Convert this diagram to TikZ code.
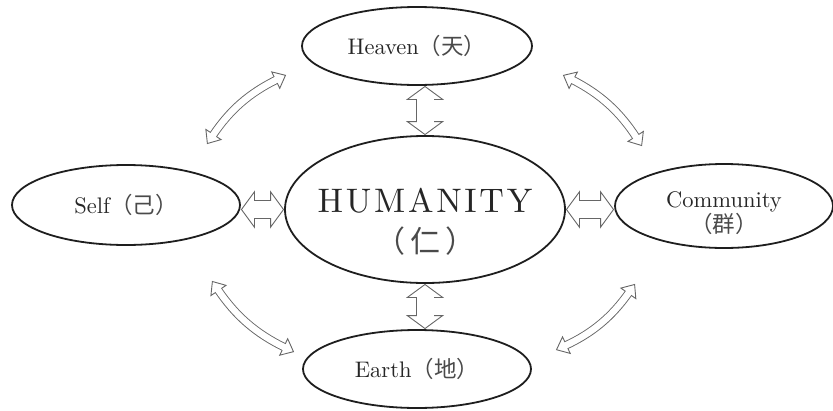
\documentclass[tikz,border=0pt]{standalone}
\usepackage{fontspec}
\setmainfont{lmroman10-regular}[Extension=.otf]
\newfontfamily\cjk{Noto Sans CJK SC}
\usetikzlibrary{arrows.meta,calc,shapes.geometric}
\definecolor{RenInk}{HTML}{1E1E1E}
\definecolor{RenText}{HTML}{262626}
\definecolor{RenHan}{HTML}{4A4A4A}
\definecolor{RenArrow}{HTML}{666666}
\tikzset{
  realm/.style={ellipse,draw=RenInk,line width=1.8pt,inner sep=0pt,
    align=center,text=RenText,font=\fontsize{22.5}{24}\selectfont},
  hollow/.style n args={3}{draw=RenArrow,line width=0.9pt,
    {Triangle[fill=white,length=#2,width=#3]}-{Triangle[fill=white,length=#2,width=#3]},
    preaction={draw=RenArrow,arrows=-,line width=#1+1.8pt,
      shorten <=#2-1.5pt,shorten >=#2-1.5pt},
    postaction={draw=white,arrows=-,line width=#1,
      shorten <=#2-2pt,shorten >=#2-2pt}},
  bigarrow/.style={hollow={17pt}{14pt}{38pt}},
  bentarrow/.style={hollow={6.5pt}{12pt}{20pt}}
}
\newcommand{\han}[1]{{\cjk\color{RenHan}#1}}

\begin{document}
\begin{tikzpicture}[x=1pt,y=1pt]
    \useasboundingbox (0,0) rectangle (833,-410);

    \node[realm,minimum width=280pt,minimum height=147pt,inner xsep=-14pt,
      font=\fontsize{34}{40}\selectfont] (human) at (425,-209.5)
      {\rule{0pt}{48pt}\addfontfeatures{LetterSpace=8}HUMANITY\\\fontsize{30}{40}\selectfont\han{（}\hspace{5pt}\han{仁}\hspace{5pt}\han{）}};
    \node[realm,minimum width=230pt,minimum height=78pt] (heaven) at (417,-46) {Heaven\han{（天）}};
    \node[realm,minimum width=228pt,minimum height=80pt] (self) at (126,-205) {Self\han{（己）}};
    \node[realm,minimum width=218pt,minimum height=84pt,
      font=\fontsize{22.5}{22}\selectfont] (community) at (724,-206) {\rule{0pt}{30pt}Community\\\han{（群）}};
    \node[realm,minimum width=228pt,minimum height=78pt] (earth) at (417,-369) {Earth\han{（地）}};

    % straight links to the centre
    \draw[bigarrow] (human.north) -- (human.north |- heaven.south);
    \draw[bigarrow] (human.south) -- (human.south |- earth.north);
    \draw[bigarrow] (human.west) -- (human.west -| self.east);
    \draw[bigarrow] (human.east) -- (human.east -| community.west);

    % outer ring
    \coordinate (hs) at ($(heaven.west)+(-15,-29)$);
    \coordinate (sh) at ($(self.north)+(81,20)$);
    \coordinate (hc) at ($(heaven.east)+(30,-29)$);
    \coordinate (ch) at ($(community.north)+(-82,17)$);
    \coordinate (se) at ($(self.south)+(86,-35)$);
    \coordinate (es) at ($(earth.west)+(-8,17)$);
    \coordinate (ce) at ($(community.south)+(-89,-35)$);
    \coordinate (ec) at ($(earth.east)+(24,19)$);
    \draw[bentarrow] (hs) to[bend right=15] (sh);
    \draw[bentarrow] (hc) to[bend left=15] (ch);
    \draw[bentarrow] (se) to[bend right=15] (es);
    \draw[bentarrow] (ce) to[bend left=15] (ec);
\end{tikzpicture}
\end{document}
